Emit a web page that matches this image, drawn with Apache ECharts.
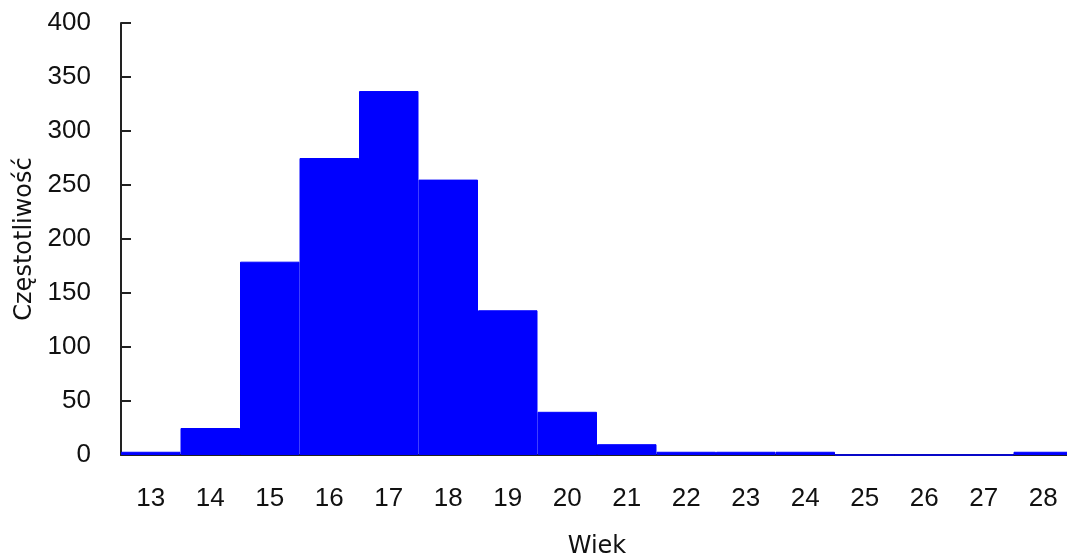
<!DOCTYPE html>
<html>
<head>
<meta charset="utf-8">
<script src="https://cdn.jsdelivr.net/npm/echarts@6/dist/echarts.min.js"></script>
<style>
html,body{margin:0;padding:0;background:#fff;overflow:hidden;}
#chart{width:1067px;height:560px;}
</style>
</head>
<body>
<div id="chart"></div>
<script>
const categories = ['13','14','15','16','17','18','19','20','21','22','23','24','25','26','27','28'];
const frequencies = [3, 25, 179, 275, 337, 255, 134, 40, 10, 3, 3, 3, 0, 0, 0, 3];
const yTicks = [0, 50, 100, 150, 200, 250, 300, 350, 400];
const xTitle = 'Wiek';
const yTitle = 'Częstotliwość';

const chart = echarts.init(document.getElementById('chart'));
chart.setOption({
  animation: false,
  backgroundColor: '#ffffff',
  grid: { left: 121, top: 23, width: 952, height: 432, containLabel: false, outerBoundsMode: 'none' },
  xAxis: {
    type: 'category',
    data: categories,
    boundaryGap: true,
    name: xTitle,
    nameLocation: 'middle',
    nameGap: 80,
    nameTextStyle: { fontFamily: 'DejaVu Sans', fontSize: 24, color: '#111' },
    axisLine: { show: true, lineStyle: { color: '#222', width: 2 } },
    axisTick: { show: false },
    axisLabel: { fontFamily: 'Liberation Sans', fontSize: 26, color: '#111', margin: 31 },
    splitLine: { show: false }
  },
  yAxis: {
    type: 'value',
    min: yTicks[0],
    max: yTicks[yTicks.length - 1],
    interval: yTicks[1] - yTicks[0],
    name: yTitle,
    nameLocation: 'middle',
    nameGap: 83,
    nameTextStyle: { fontFamily: 'DejaVu Sans', fontSize: 24, color: '#111' },
    axisLine: { show: true, lineStyle: { color: '#222', width: 2 } },
    axisTick: { show: true, inside: true, length: 10, lineStyle: { color: '#222', width: 2 } },
    axisLabel: { fontFamily: 'Liberation Sans', fontSize: 26, color: '#111', margin: 30 },
    splitLine: { show: false }
  },
  series: [{
    type: 'bar',
    data: frequencies,
    barCategoryGap: '0%',
    itemStyle: { color: '#0000ff', borderColor: '#0000ff', borderWidth: 1 }
  }]
});
</script>
</body>
</html>
